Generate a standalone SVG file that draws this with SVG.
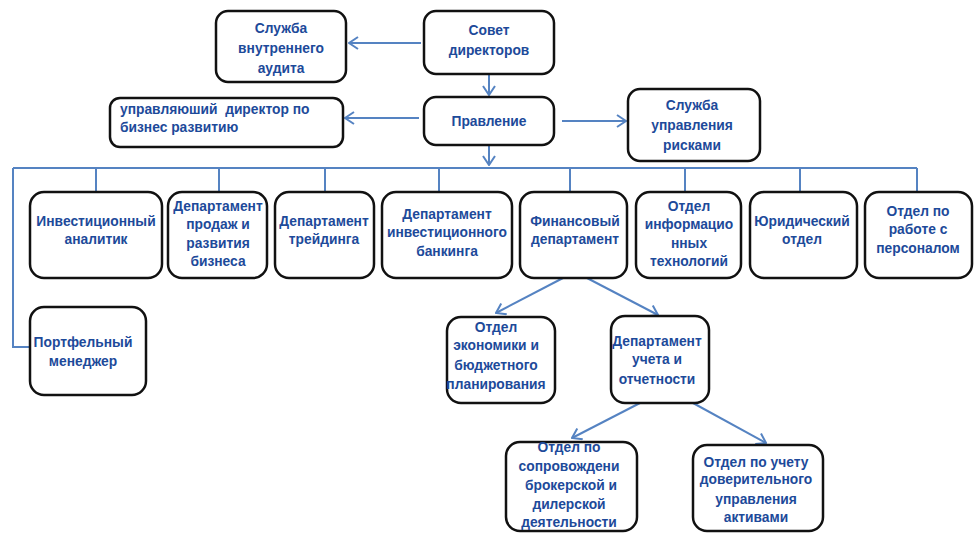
<svg xmlns="http://www.w3.org/2000/svg" width="977" height="533" viewBox="0 0 977 533">
<style>
.box{fill:#fff;stroke:#111;stroke-width:2.5}
.t{font-family:"Liberation Sans",Arial,sans-serif;font-weight:bold;font-size:13.8px;fill:#1d4a9a;text-anchor:middle}
.l{text-anchor:start}
.c{fill:none;stroke:#5583c2;stroke-width:2}
</style>
<defs>
<marker id="ah" markerUnits="userSpaceOnUse" viewBox="0 0 11 14" markerWidth="11" markerHeight="14" refX="10" refY="7" orient="auto">
<path d="M1,1 L10,7 L1,13" fill="none" stroke="#5583c2" stroke-width="2"/>
</marker>
</defs>
<rect width="977" height="533" fill="#fff"/>
<g id="connectors">
<path class="c" d="M421,43 L349,43" marker-end="url(#ah)"/>
<path class="c" d="M489,75 L489,95" marker-end="url(#ah)"/>
<path class="c" d="M419,118 L345,118" marker-end="url(#ah)"/>
<path class="c" d="M562,121 L626,121" marker-end="url(#ah)"/>
<path class="c" d="M489,145 L489,165" marker-end="url(#ah)"/>
<path class="c" d="M13,168 L917,168"/>
<path class="c" d="M96,168 V192 M219,168 V192 M325,168 V192 M439,168 V192 M570,168 V192 M685,168 V192 M800,168 V192 M917,168 V192"/>
<path class="c" d="M13,168 L13,347 L30,347"/>
<path class="c" d="M563,278 L496,313" marker-end="url(#ah)"/>
<path class="c" d="M587,278 L658,315" marker-end="url(#ah)"/>
<path class="c" d="M640,403 L572,438" marker-end="url(#ah)"/>
<path class="c" d="M693,403 L766,443" marker-end="url(#ah)"/>
</g>
<g id="audit"><rect class="box" x="216" y="11" width="130" height="71" rx="12"/>
<text class="t" x="281" y="33">Служба</text><text class="t" x="281" y="53">внутреннего</text><text class="t" x="281" y="73">аудита</text></g>
<g id="board"><rect class="box" x="424" y="11" width="130" height="63" rx="12"/>
<text class="t" x="489" y="35">Совет</text><text class="t" x="489" y="55">директоров</text></g>
<g id="management"><rect class="box" x="424" y="97" width="130" height="48" rx="12"/>
<text class="t" x="489" y="126">Правление</text></g>
<g id="md"><rect class="box" x="110" y="98" width="233" height="49" rx="10"/>
<text class="t l" x="120" y="114" xml:space="preserve">управляюший  директор по</text><text class="t l" x="120" y="132">бизнес развитию</text></g>
<g id="risk"><rect class="box" x="628" y="89" width="132" height="72" rx="12"/>
<text class="t" x="692" y="110">Служба</text><text class="t" x="692" y="130">управления</text><text class="t" x="692" y="150">рисками</text></g>
<g id="analyst"><rect class="box" x="30" y="192" width="132" height="86" rx="14"/>
<text class="t" x="96" y="226">Инвестиционный</text><text class="t" x="96" y="244">аналитик</text></g>
<g id="sales"><rect class="box" x="168" y="192" width="99" height="86" rx="14"/>
<text class="t" x="218" y="211">Департамент</text><text class="t" x="218" y="229">продаж и</text><text class="t" x="218" y="248">развития</text><text class="t" x="218" y="266">бизнеса</text></g>
<g id="trading"><rect class="box" x="275" y="192" width="99" height="86" rx="14"/>
<text class="t" x="324" y="226">Департамент</text><text class="t" x="324" y="244">трейдинга</text></g>
<g id="ib"><rect class="box" x="382" y="192" width="130" height="86" rx="14"/>
<text class="t" x="447" y="219">Департамент</text><text class="t" x="447" y="237">инвестиционного</text><text class="t" x="447" y="256">банкинга</text></g>
<g id="finance"><rect class="box" x="520" y="192" width="107" height="86" rx="14"/>
<text class="t" x="575" y="226">Финансовый</text><text class="t" x="575" y="244">департамент</text></g>
<g id="it"><rect class="box" x="636" y="192" width="105" height="86" rx="14"/>
<text class="t" x="689" y="211">Отдел</text><text class="t" x="689" y="229">информацио</text><text class="t" x="689" y="248">нных</text><text class="t" x="689" y="266">технологий</text></g>
<g id="legal"><rect class="box" x="750" y="192" width="107" height="86" rx="14"/>
<text class="t" x="802" y="226">Юридический</text><text class="t" x="802" y="244">отдел</text></g>
<g id="hr"><rect class="box" x="865" y="192" width="107" height="86" rx="14"/>
<text class="t" x="918" y="216">Отдел по</text><text class="t" x="918" y="234">работе с</text><text class="t" x="918" y="253">персоналом</text></g>
<g id="portfolio"><rect class="box" x="30" y="307" width="116" height="88" rx="14"/>
<text class="t" x="83" y="347">Портфельный</text><text class="t" x="83" y="366">менеджер</text></g>
<g id="economics"><rect class="box" x="447" y="317" width="108" height="86" rx="14"/>
<text class="t" x="496" y="332">Отдел</text><text class="t" x="496" y="350">экономики и</text><text class="t" x="496" y="370">бюджетного</text><text class="t" x="496" y="389">планирования</text></g>
<g id="accounting"><rect class="box" x="611" y="316" width="98" height="87" rx="14"/>
<text class="t" x="657" y="346">Департамент</text><text class="t" x="657" y="364">учета и</text><text class="t" x="657" y="384">отчетности</text></g>
<g id="brokerage"><rect class="box" x="506" y="442" width="131" height="89" rx="14"/>
<text class="t" x="569" y="452">Отдел по</text><text class="t" x="569" y="471">сопровождени</text><text class="t" x="571" y="490">брокерской и</text><text class="t" x="569" y="509">дилерской</text><text class="t" x="569" y="527">деятельности</text></g>
<g id="trust"><rect class="box" x="693" y="445" width="130" height="86" rx="14"/>
<text class="t" x="756" y="467">Отдел по учету</text><text class="t" x="756" y="484">доверительного</text><text class="t" x="756" y="504">управления</text><text class="t" x="756" y="522">активами</text></g>
</svg>
